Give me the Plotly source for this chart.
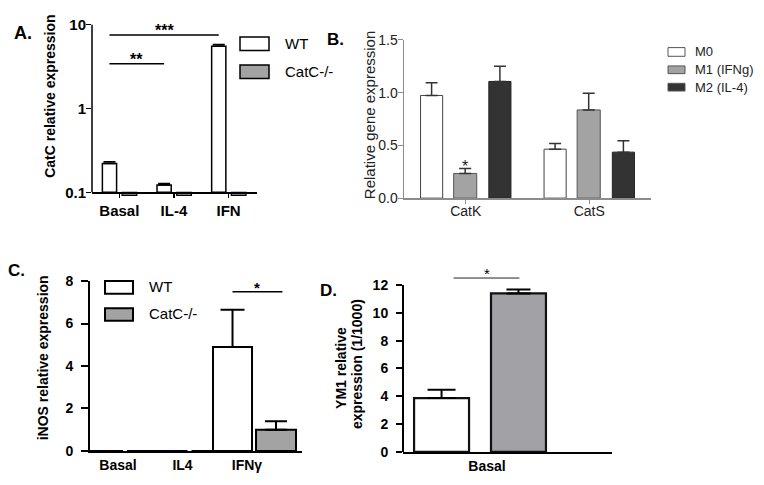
import math
import plotly.graph_objects as go

W, H = 764, 485
FONT = "Liberation Sans, Arial, Helvetica, sans-serif"


def px(x):
    return x / W


def py(y):
    return 1 - y / H


# ---------------- data ----------------
# Panel A (log scale)
a_categories = ["Basal", "IL-4", "IFN"]
a_series = ["WT", "CatC-/-"]
a_wt = [0.221, 0.122, 5.5]
a_wt_err = [0.010, 0.005, 0.25]
a_ko = [0.092, 0.092, 0.092]
a_baseline = 0.1
a_yticks = [0.1, 1, 10]
a_yticklabels = ["0.1", "1", "10"]
a_sig = [("Basal", "IFN", 7.5, "***"), ("Basal", "IL-4", 3.4, "**")]

# Panel B
b_categories = ["CatK", "CatS"]
b_series = ["M0", "M1 (IFNg)", "M2 (IL-4)"]
b_m0 = [0.973, 0.464]
b_m0_err = [0.12, 0.054]
b_m1 = [0.234, 0.836]
b_m1_err = [0.046, 0.158]
b_m2 = [1.106, 0.436]
b_m2_err = [0.145, 0.109]
b_yticks = [0.0, 0.5, 1.0, 1.5]

# Panel C
c_categories = ["Basal", "IL4", "IFNγ"]
c_series = ["WT", "CatC-/-"]
c_wt = [0, 0, 4.9]
c_wt_err = [0, 0, 1.75]
c_ko = [0, 0, 1.0]
c_ko_err = [0, 0, 0.4]
c_yticks = [0, 2, 4, 6, 8]
c_sig_level = 7.5

# Panel D
d_categories = ["Basal"]
d_wt = [3.87]
d_wt_err = [0.6]
d_ko = [11.39]
d_ko_err = [0.28]
d_yticks = [0, 2, 4, 6, 8, 10, 12]
d_sig_level = 12.5

# ---------------- styles ----------------
GRAY = "#a3a3a3"
DARK = "#333333"
B_LINE = "#8c8c8c"

A_OFF, A_WID = [-0.31, 0.05], [0.26, 0.27]
B_OFF, B_WID = [-0.366, -0.098, 0.187], [0.179, 0.187, 0.179]
C_OFF, C_WID = [-0.527, 0.14], [0.605, 0.62]
D_OFF, D_WID = [-0.349, 0.019], [0.263, 0.263]


def err(arr, w, t, c="black"):
    return dict(type="data", array=arr, arrayminus=[0] * len(arr), symmetric=False,
                width=w, thickness=t, color=c)


fig = go.Figure()

# ---- Panel A ----
fig.add_trace(go.Bar(x=a_categories, y=[v - a_baseline for v in a_wt], base=a_baseline,
                     offset=A_OFF[0], width=A_WID[0], name=a_series[0],
                     marker=dict(color="white", line=dict(color="black", width=1.5)),
                     error_y=err(a_wt_err, 6, 1.5), xaxis="x", yaxis="y"))
fig.add_trace(go.Bar(x=a_categories, y=[v - a_baseline for v in a_ko], base=a_baseline,
                     offset=A_OFF[1], width=A_WID[1], name=a_series[1],
                     marker=dict(color=GRAY, line=dict(color="black", width=1.2)),
                     xaxis="x", yaxis="y"))

# ---- Panel B ----
for vals, errs, col, lc, i in [(b_m0, b_m0_err, "white", "#444444", 0),
                               (b_m1, b_m1_err, GRAY, "#555555", 1),
                               (b_m2, b_m2_err, DARK, "#222222", 2)]:
    fig.add_trace(go.Bar(x=b_categories, y=vals, offset=B_OFF[i], width=B_WID[i],
                         name=b_series[i],
                         marker=dict(color=col, line=dict(color=lc, width=1)),
                         error_y=err(errs, 6, 1.5, "#333333"), xaxis="x2", yaxis="y2"))

# ---- Panel C ----
fig.add_trace(go.Bar(x=c_categories, y=c_wt, offset=C_OFF[0], width=C_WID[0], name=c_series[0],
                     marker=dict(color="white", line=dict(color="black", width=2)),
                     error_y=err(c_wt_err, 12, 2), xaxis="x3", yaxis="y3"))
fig.add_trace(go.Bar(x=c_categories, y=c_ko, offset=C_OFF[1], width=C_WID[1], name=c_series[1],
                     marker=dict(color=GRAY, line=dict(color="black", width=2)),
                     error_y=err(c_ko_err, 11, 2), xaxis="x3", yaxis="y3"))

# ---- Panel D ----
fig.add_trace(go.Bar(x=d_categories, y=d_wt, offset=D_OFF[0], width=D_WID[0], name="WT",
                     marker=dict(color="white", line=dict(color="#111111", width=2.2)),
                     error_y=err(d_wt_err, 14, 2), xaxis="x4", yaxis="y4"))
fig.add_trace(go.Bar(x=d_categories, y=d_ko, offset=D_OFF[1], width=D_WID[1], name="CatC-/-",
                     marker=dict(color="#a2a2a6", line=dict(color="#111111", width=2.2)),
                     error_y=err(d_ko_err, 12, 2), xaxis="x4", yaxis="y4"))

shapes = []
annotations = []

# A vertical axis line from 0.1 to 10
shapes.append(dict(type="line", xref="x domain", x0=0, x1=0, yref="y", y0=a_yticks[0], y1=a_yticks[-1],
                   line=dict(color="black", width=1.5)))
# D vertical axis line from 0 to 12
shapes.append(dict(type="line", xref="x4 domain", x0=0, x1=0, yref="y4", y0=d_yticks[0], y1=d_yticks[-1],
                   line=dict(color="black", width=2)))

# A significance
wt_center_a = A_OFF[0] + A_WID[0] / 2
for c1, c2, lvl, txt in a_sig:
    x0 = a_categories.index(c1) + wt_center_a
    x1 = a_categories.index(c2) + wt_center_a
    shapes.append(dict(type="line", xref="x", yref="y", x0=x0, x1=x1, y0=lvl, y1=lvl,
                       line=dict(color="black", width=1.5)))
    annotations.append(dict(xref="x", yref="y", x=(x0 + x1) / 2, y=math.log10(lvl), text=txt,
                            showarrow=False, yanchor="bottom", yshift=-6,
                            font=dict(size=16, weight="bold", color="black")))

# B significance star over M1 CatK
annotations.append(dict(xref="x2", yref="y2", x=B_OFF[1] + B_WID[1] / 2, y=b_m1[0] + b_m1_err[0],
                        text="*", showarrow=False, yanchor="bottom", yshift=-8,
                        font=dict(size=16, color="#222222")))

# C significance
c_i = c_categories.index("IFNγ")
cx0 = c_i + C_OFF[0] + C_WID[0] / 2
cx1 = c_i + C_OFF[1] + C_WID[1] / 2 + 0.1
shapes.append(dict(type="line", xref="x3", yref="y3", x0=cx0, x1=cx1, y0=c_sig_level, y1=c_sig_level,
                   line=dict(color="black", width=1.5)))
annotations.append(dict(xref="x3", yref="y3", x=(cx0 + cx1) / 2, y=c_sig_level, text="*",
                        showarrow=False, yanchor="bottom", yshift=-6,
                        font=dict(size=15, weight="bold", color="black")))

# D significance
dx0, dx1 = -0.16, 0.155
shapes.append(dict(type="line", xref="x4", yref="y4", x0=dx0, x1=dx1, y0=d_sig_level, y1=d_sig_level,
                   line=dict(color="#222222", width=1)))
annotations.append(dict(xref="x4", yref="y4", x=0, y=d_sig_level, text="*", showarrow=False,
                        yanchor="bottom", yshift=-6, font=dict(size=15, color="black")))


# legends (drawn)
def legend_box(x0, y0, x1, y1, fill, lc, lw):
    shapes.append(dict(type="rect", xref="paper", yref="paper", x0=px(x0), x1=px(x1),
                       y0=py(y1), y1=py(y0), fillcolor=fill, line=dict(color=lc, width=lw)))


def label(x, y, txt, size, color="black", weight="normal", xanchor="left", angle=0):
    annotations.append(dict(xref="paper", yref="paper", x=px(x), y=py(y), text=txt,
                            showarrow=False, xanchor=xanchor, yanchor="middle", textangle=angle,
                            font=dict(size=size, color=color, weight=weight)))


legend_box(240, 29, 269, 43, "white", "black", 1.5)
legend_box(240, 58, 269, 72, GRAY, "black", 1.5)
label(283, 36, a_series[0], 15)
label(283, 65, a_series[1], 15)

legend_box(668, 40, 685, 49, "white", "#555555", 1)
legend_box(668, 59, 685, 67, GRAY, "#555555", 1)
legend_box(668, 77, 685, 85, DARK, "#555555", 1)
label(693, 44, b_series[0], 13, "#222222")
label(693, 63, b_series[1], 13, "#222222")
label(693, 81, b_series[2], 13, "#222222")

legend_box(105, 282, 133, 295, "white", "black", 2)
legend_box(105, 310, 133, 323, GRAY, "black", 2)
label(147, 288, c_series[0], 15)
label(147, 316, c_series[1], 15)

# axis titles
label(50, 91, "CatC relative expression", 14, weight="bold", xanchor="center", angle=-90)
label(369, 110, "Relative gene expression", 15, "#222222", xanchor="center", angle=-90)
label(43, 362, "iNOS relative expression", 14, weight="bold", xanchor="center", angle=-90)
label(341, 372, "YM1 relative", 14, weight="bold", xanchor="center", angle=-90)
label(357, 368, "expression (1/1000)", 14, weight="bold", xanchor="center", angle=-90)

# panel letters
label(23, 25, "A.", 18, weight="bold", xanchor="center")
label(335, 32, "B.", 17, weight="bold", xanchor="center")
label(16, 271, "C.", 17, weight="bold", xanchor="center")
label(328, 292, "D.", 17, weight="bold", xanchor="center")

common = dict(showgrid=False, zeroline=False, fixedrange=True)
bold = lambda s: dict(size=s, weight="bold", color="black", family=FONT)

d_px_per_unit = (459 - 286) / 12.0
d_top_px = 459 - 13 * d_px_per_unit

fig.update_layout(
    width=W, height=H, autosize=False,
    margin=dict(l=0, r=0, t=0, b=0),
    paper_bgcolor="white", plot_bgcolor="rgba(0,0,0,0)",
    showlegend=False, barmode="overlay",
    font=dict(family=FONT, color="black"),
    xaxis=dict(domain=[px(92), px(257)], type="category", range=[-0.5, 2.52], anchor="free",
               position=py(190), showline=True, linecolor="black", linewidth=1.5,
               ticks="outside", ticklen=4, tickwidth=1.5, tickcolor="black",
               tickfont=bold(15), **common),
    yaxis=dict(domain=[py(194.8), py(16)], type="log", range=[math.log10(0.088), 1], anchor="x",
               showline=False, ticks="outside", ticklen=5, tickwidth=1.5, tickcolor="black",
               tickvals=a_yticks, ticktext=a_yticklabels, tickfont=bold(15),
               ticklabelstandoff=-3, **common),
    xaxis2=dict(domain=[px(404), px(651)], type="category", range=[-0.5, 1.5], anchor="y2",
                showline=True, linecolor=B_LINE, linewidth=1.5, ticks="outside", ticklen=4,
                tickwidth=1.2, tickcolor=B_LINE, ticklabelstandoff=-4,
                tickfont=dict(size=14, color="#222222", family=FONT), **common),
    yaxis2=dict(domain=[py(196), py(32)], range=[0, 1.5], anchor="x2", showline=True,
                linecolor=B_LINE, linewidth=1.5, ticks="outside", ticklen=5, tickwidth=1.2,
                tickcolor=B_LINE, tickvals=b_yticks, tickformat=".1f", ticklabelstandoff=-3,
                tickfont=dict(size=14, color="#222222", family=FONT), **common),
    xaxis3=dict(domain=[px(90), px(302)], type="category", range=[-0.434, 2.853], anchor="y3",
                showline=True, linecolor="black", linewidth=2, ticks="",
                tickfont=bold(14), **common),
    yaxis3=dict(domain=[py(458), py(282)], range=[0, 8], anchor="x3", showline=True,
                linecolor="black", linewidth=2, ticks="outside", ticklen=7, tickwidth=2,
                tickcolor="black", tickvals=c_yticks, tickfont=bold(14), ticklabelstandoff=5,
                **common),
    xaxis4=dict(domain=[px(403), px(612)], type="category", range=[-0.402, 0.598], anchor="y4",
                showline=True, linecolor="black", linewidth=2, ticks="",
                tickfont=bold(14), **common),
    yaxis4=dict(domain=[py(459), py(d_top_px)], range=[0, 13], anchor="x4", showline=False,
                ticks="outside", ticklen=6, tickwidth=2,
                tickcolor="black", tickvals=d_yticks, tickfont=bold(14), ticklabelstandoff=5,
                **common),
    shapes=shapes,
    annotations=annotations,
)

# place the figure at the page's top-left corner (no default body margin), no mode bar
fig.write_html(
    "out.html",
    config={"displayModeBar": False, "staticPlot": True},
    post_script="document.body.style.margin='0px';"
                "document.documentElement.style.overflow='hidden';"
                "document.body.style.overflow='hidden';",
)
